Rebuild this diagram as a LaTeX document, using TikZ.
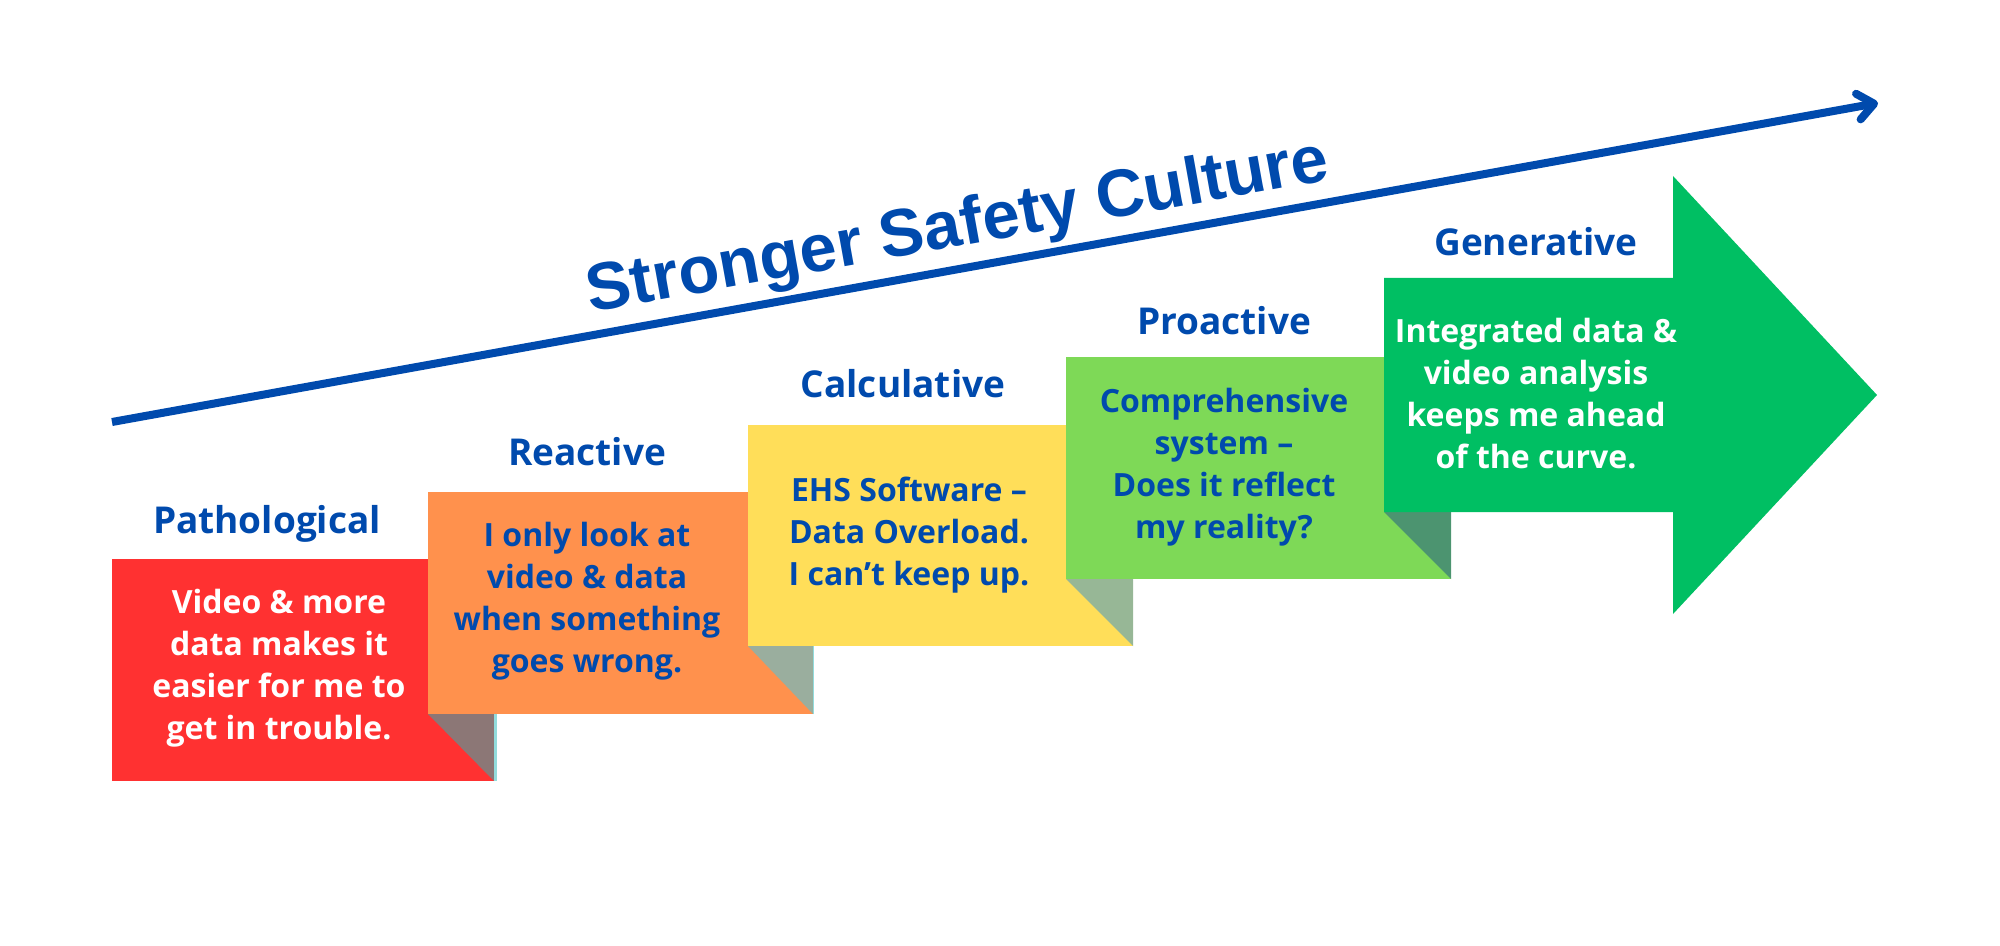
\documentclass[tikz,border=0pt]{standalone}
\usepackage{fontspec}
\setmainfont{Open Sans}
\newfontfamily\titlefont{Liberation Sans}
\usetikzlibrary{arrows.meta}
\definecolor{ehsblue}{HTML}{004AAD}
\definecolor{stepred}{HTML}{FF3131}
\definecolor{steporange}{HTML}{FF914D}
\definecolor{stepyellow}{HTML}{FFDE59}
\definecolor{steplime}{HTML}{7ED957}
\definecolor{stepgreen}{HTML}{00BF63}
\definecolor{foldred}{HTML}{8C7776}
\definecolor{foldorange}{HTML}{9AAE9E}
\definecolor{foldyellow}{HTML}{97B796}
\definecolor{foldlime}{HTML}{4C9470}
\definecolor{foldedge}{HTML}{93DCDC}
\begin{document}
\begin{tikzpicture}
[x=0.5pt, y=-0.5pt,
 stage/.style={font=\bfseries\fontsize{18.5}{22}\selectfont, text=ehsblue, anchor=base, inner sep=0pt},
 blurb/.style={font=\bfseries\fontsize{16}{21}\selectfont, align=center, inner sep=0pt},
 >={Straight Barb[length=8pt, width=13pt, round]}]
\useasboundingbox (0,0) rectangle (2000,946);

% the five steps, each with its folded corner
\fill[stepred] (112,559) rectangle (494,781);
\fill[foldred] (428,714) -- (494,714) -- (494,781) -- cycle;
\draw[foldedge, line width=1.5pt] (495.5,714) -- (495.5,781);
\fill[steporange] (428,492) rectangle (813,714);
\fill[foldorange] (748,646) -- (813,646) -- (813,714) -- cycle;
\draw[foldedge, line width=0.6pt] (813.5,646) -- (813.5,714);
\fill[stepyellow] (748,425) rectangle (1133,646);
\fill[foldyellow] (1066,579) -- (1133,579) -- (1133,646) -- cycle;
\fill[steplime] (1066,357) rectangle (1451,579);
\fill[foldlime] (1384,512) -- (1451,512) -- (1451,579) -- cycle;
\fill[stepgreen] (1384,278) -- (1673,278) -- (1673,176) -- (1877,395)
  -- (1673,614) -- (1673,512) -- (1384,512) -- cycle;

% growth arrow and its title
\coordinate (base) at (112,422);
\coordinate (tip) at (1878,103);
\draw[ehsblue, line width=4pt, ->] (base) -- (tip);
\node (title) at (961,246) [anchor=base, rotate=10.2, inner sep=0pt, text=ehsblue,
  font=\titlefont\bfseries\fontsize{33.5}{40}\selectfont] {Stronger Safety Culture};

% stage names
\node (patho) at (267,533) [stage] {Pathological};
\node (react) at (587,465) [stage] {Reactive};
\node (calc) at (903,397) [stage] {Calculative};
\node (proact) at (1224,335) [stage] {Proactive};
\node (gen) at (1536,256) [stage] {Generative};

% what each stage says
\node (pathotext) at (279,668) [blurb, text=white] {Video \& more\\data makes it\\easier for me to\\get in trouble.};
\node (reacttext) at (587,601) [blurb, text=ehsblue] {I only look at\\video \& data\\when something\\goes wrong.};
\node (calctext) at (909,535) [blurb, text=ehsblue] {EHS Software –\\Data Overload.\\I can’t keep up.};
\node (proacttext) at (1224,467) [blurb, text=ehsblue] {Comprehensive\\system –\\Does it reflect\\my reality?};
\node (gentext) at (1536,394) [blurb, text=white] {Integrated data \&\\video analysis\\keeps me ahead\\of the curve.};
\end{tikzpicture}
\end{document}
